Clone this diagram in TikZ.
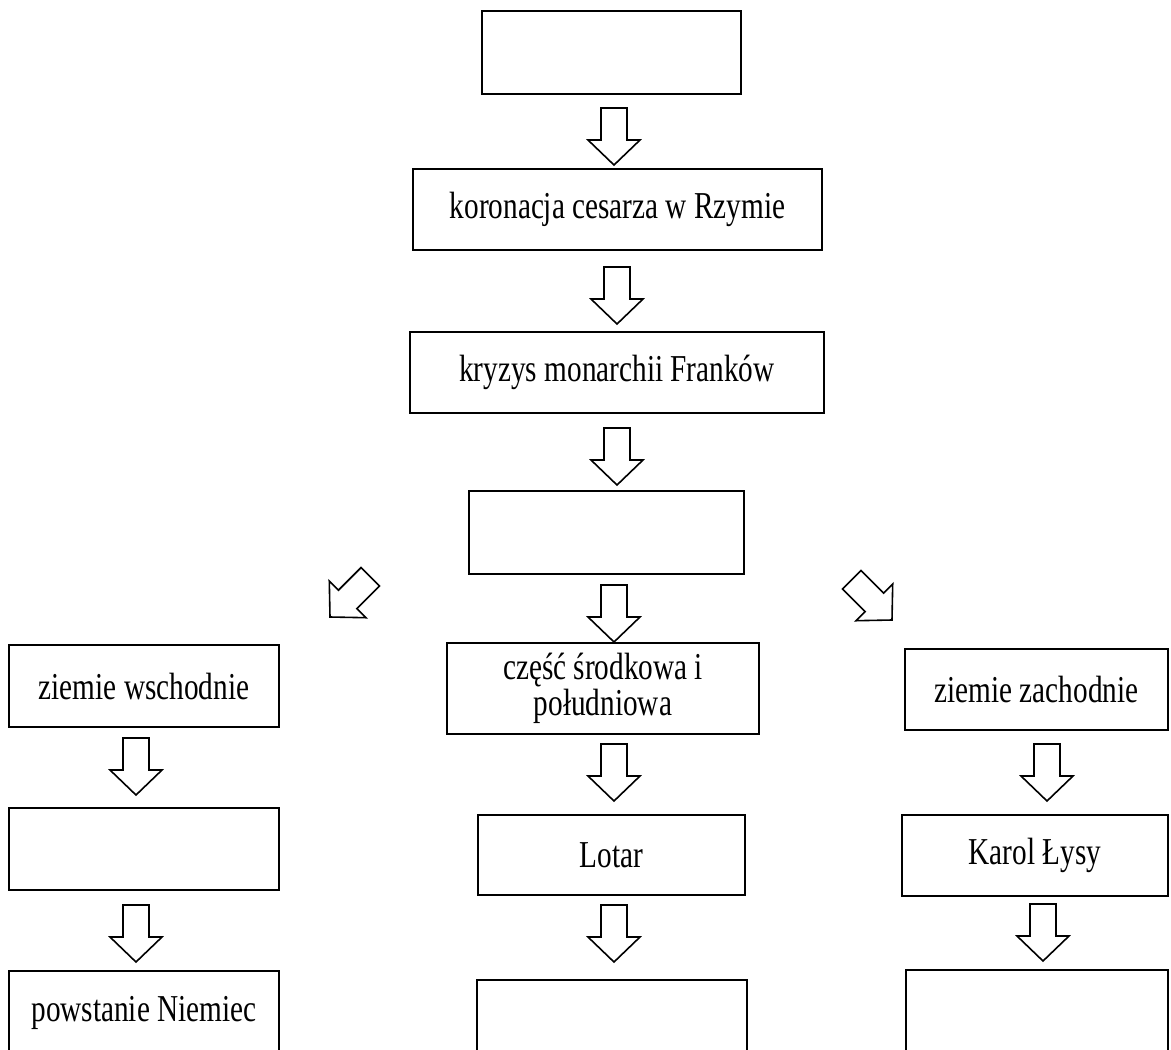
\documentclass[tikz,border=0pt]{standalone}
\usepackage{fontspec}
\setmainfont{Liberation Serif}[FakeStretch=0.77]
\tikzset{
  box/.style={draw, line width=1.3pt, inner sep=0pt, outer sep=0pt, align=center,
    font=\fontsize{38}{36}\selectfont},
  arrowline/.style={draw, line width=1.6pt, fill=white, line join=miter},
  barrow/.pic={\path[arrowline] (-13,-57) -- (13,-57) -- (13,-25) -- (26,-25) -- (0,0) -- (-26,-25) -- (-13,-25) -- cycle;}
}
\newcommand\mkbox[6]{%
  \pgfmathsetmacro\bcx{(#2+#4)/2}%
  \pgfmathsetmacro\bcy{(#3+#5)/2}%
  \pgfmathsetmacro\bw{#4-#2}%
  \pgfmathsetmacro\bh{#5-#3}%
  \node[box, minimum width=\bw pt, minimum height=\bh pt] (#1) at (\bcx,\bcy) {#6};}
\begin{document}
\begin{tikzpicture}[x=1pt,y=-1pt]
\useasboundingbox (0,0) rectangle (1171,1050);
\clip (0,0) rectangle (1171,1050);
% central column
\mkbox{b1}{482}{11}{741}{94}{}
\mkbox{b2}{413}{169}{822}{250}{koronacja cesarza w Rzymie}
\mkbox{b3}{410}{332}{824}{413}{kryzys monarchii Franków}
\mkbox{b4}{469}{491}{744}{574}{}
% left column
\mkbox{l1}{9}{645}{279}{727}{ziemie wschodnie}
\mkbox{l2}{9}{808}{279}{890}{}
\mkbox{l3}{9}{971}{279}{1055}{powstanie Niemiec}
% middle column
\mkbox{c1}{447}{643}{759}{734}{część środkowa i\\południowa}
\mkbox{c2}{478}{815}{745}{895}{Lotar}
\mkbox{c3}{477}{980}{747}{1062}{}
% right column
\mkbox{r1}{905}{649}{1168}{730}{ziemie zachodnie}
\mkbox{r2}{902}{815}{1168}{896}{Karol Łysy}
\mkbox{r3}{906}{970}{1168}{1052}{}
% block arrows
\pic at (614,165) {barrow};
\pic at (617,324) {barrow};
\pic at (617,485) {barrow};
\pic at (614,642) {barrow};
\pic[rotate=-45] at (330,617) {barrow};
\pic[rotate=45] at (892,620) {barrow};
\pic at (136,795) {barrow};
\pic at (136,962) {barrow};
\pic at (614,801) {barrow};
\pic at (614,962) {barrow};
\pic at (1047,801) {barrow};
\pic at (1043,961) {barrow};
\end{tikzpicture}
\end{document}
